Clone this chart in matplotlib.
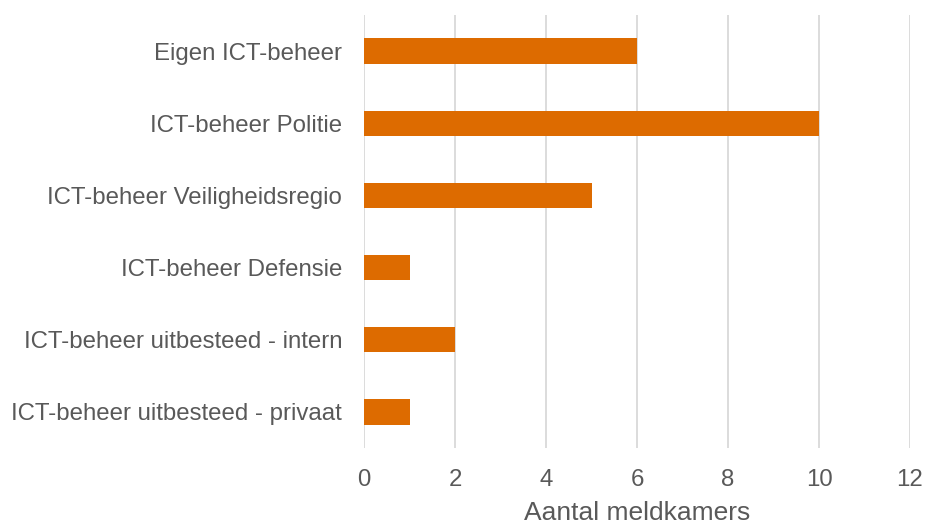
import matplotlib
matplotlib.use("Agg")
import matplotlib.pyplot as plt

categories = [
    "Eigen ICT-beheer",
    "ICT-beheer Politie",
    "ICT-beheer Veiligheidsregio",
    "ICT-beheer Defensie",
    "ICT-beheer uitbesteed - intern",
    "ICT-beheer uitbesteed - privaat",
]
values = [6, 10, 5, 1, 2, 1]
xticks = [0, 2, 4, 6, 8, 10, 12]
xlabel = "Aantal meldkamers"

plt.rcParams['font.family'] = ['Liberation Sans', 'DejaVu Sans']
W, H = 927, 525
fig = plt.figure(figsize=(W / 100, H / 100), dpi=100)
ax = fig.add_axes([364 / W, 1 - 448 / H, (910 - 364) / W, (448 - 15) / H])

text_color = "#595959"
ypos = list(range(len(categories)))
ax.barh(ypos, values, height=0.35, color="#DD6B00", zorder=3)
ax.set_ylim(len(categories) - 0.5, -0.5)
ax.set_xlim(0, 12)
ax.set_xticks(xticks)
ax.set_xticklabels([str(t) for t in xticks])
ax.set_yticks(ypos)
ax.set_yticklabels(categories)
ax.tick_params(axis='both', length=0, labelsize=17.3, labelcolor=text_color)
ax.tick_params(axis='y', pad=15.8)
ax.tick_params(axis='x', pad=15)
ax.grid(axis='x', color="#D9D9D9", linewidth=1.3, zorder=0)
for s in ax.spines.values():
    s.set_visible(False)
fig.text(637 / W, 1 - 513 / H, xlabel, ha='center', va='center', fontsize=19, color=text_color)
fig.savefig("out.png", dpi=100)
